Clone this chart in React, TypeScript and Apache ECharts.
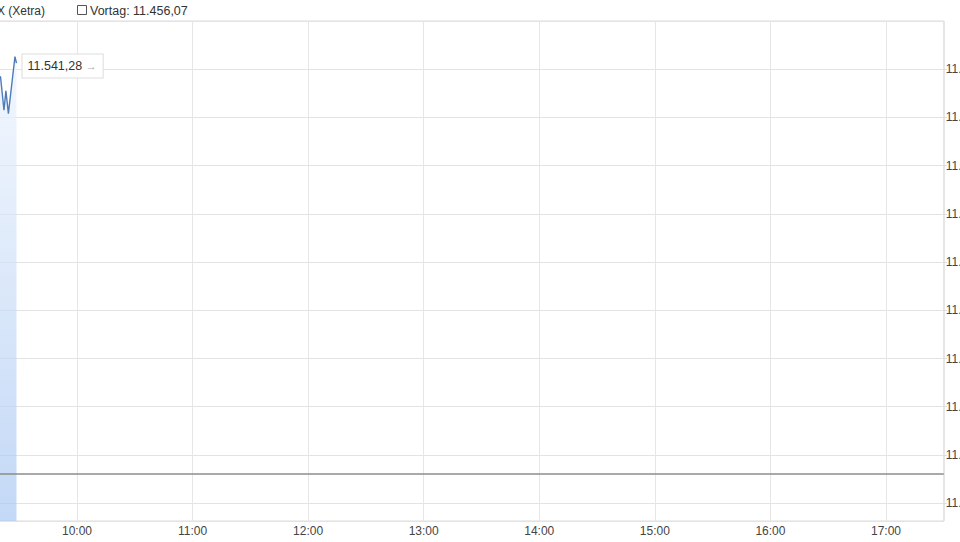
import React, { useEffect, useRef } from 'react';
import * as echarts from 'echarts';

// intraday quotes (Xetra), time of day -> index level
const times = ['09:19:30', '09:20:18', '09:22:06', '09:23:06', '09:24:24', '09:27:48', '09:28:36'];
const values = [11538.0, 11538.5, 11531.5, 11535.5, 11530.8, 11542.6, 11541.28];

const prevClose = 11456.07;
const seriesName = 'DAX (Xetra)';

// session 09:00 - 17:30, in minutes since midnight
const sessionStart = 9 * 60;
const sessionEnd = 17 * 60 + 30;
const yMin = 11446.3;
const yMax = 11550;

const toMinutes = (t: string) => {
  const [h, m, s] = t.split(':').map(Number);
  return h * 60 + m + (s || 0) / 60;
};

const fmtDE = (v: number, decimals: number) => {
  const fixed = v.toFixed(decimals);
  const [int, frac] = fixed.split('.');
  const grouped = int.replace(/\B(?=(\d{3})+(?!\d))/g, '.');
  return frac ? grouped + ',' + frac : grouped;
};

const fmtTime = (m: number) => {
  const h = Math.floor(m / 60);
  const mm = Math.round(m % 60);
  return String(h).padStart(2, '0') + ':' + String(mm).padStart(2, '0');
};

const App: React.FC = () => {
  const chartRef = useRef<HTMLDivElement>(null);

  useEffect(() => {
    if (!chartRef.current) return;
    const chart = echarts.init(chartRef.current, undefined, { renderer: 'svg' });

    const data = times.map((t, i) => [toMinutes(t), values[i]]);
    const font = '"Liberation Sans", Arial, sans-serif';

    const option = {
      animation: false,
      textStyle: { fontFamily: font },
      grid: {
        left: -38.6,
        right: 16.2,
        top: 21,
        bottom: 21,
        show: true,
        borderColor: '#dcdcdc',
        borderWidth: 1,
        containLabel: false,
        outerBoundsMode: 'none'
      },
      xAxis: {
        type: 'value',
        min: sessionStart,
        max: sessionEnd,
        interval: 60,
        axisLine: { show: false },
        axisTick: { show: false },
        axisLabel: {
          color: '#444',
          fontSize: 12,
          fontFamily: font,
          margin: 4,
          showMaxLabel: false,
          formatter: (v: number) => fmtTime(v)
        },
        splitLine: { show: true, lineStyle: { color: '#e6e6e6', width: 1 } }
      },
      yAxis: {
        type: 'value',
        position: 'right',
        min: yMin,
        max: yMax,
        splitNumber: 10,
        axisLine: { show: false },
        axisTick: { show: true, length: 3, lineStyle: { color: '#dcdcdc' } },
        axisLabel: {
          color: '#444',
          fontSize: 12,
          fontFamily: font,
          margin: 2,
          showMinLabel: false,
          showMaxLabel: false,
          formatter: (v: number) => fmtDE(v, 0)
        },
        splitLine: { show: true, lineStyle: { color: '#e3e3e3', width: 1 } }
      },
      graphic: [
        {
          type: 'text',
          x: 45,
          y: 11,
          style: {
            text: seriesName,
            textAlign: 'right',
            textVerticalAlign: 'middle',
            fill: '#333',
            font: '12px ' + font
          }
        },
        {
          type: 'rect',
          shape: { x: 77.5, y: 5.5, width: 9, height: 9 },
          style: { fill: '#fff', stroke: '#555', lineWidth: 1 }
        },
        {
          type: 'text',
          x: 90,
          y: 11,
          style: {
            text: 'Vortag: ' + fmtDE(prevClose, 2),
            textAlign: 'left',
            textVerticalAlign: 'middle',
            fill: '#333',
            font: '12.5px ' + font
          }
        }
      ],
      series: [
        {
          name: seriesName,
          type: 'line',
          data,
          showSymbol: false,
          smooth: false,
          lineStyle: { color: '#4f7cb8', width: 1.4 },
          areaStyle: {
            origin: 'start',
            color: new echarts.graphic.LinearGradient(0, 0, 0, 1, [
              { offset: 0, color: '#eef4fd' },
              { offset: 1, color: '#a9c8f2' }
            ])
          },
          endLabel: {
            show: true,
            distance: 6,
            offset: [0, 3],
            backgroundColor: '#fff',
            borderColor: '#dddddd',
            borderWidth: 1,
            padding: [5, 6, 5, 5],
            color: '#333',
            fontSize: 12.5,
            fontFamily: font,
            formatter: (p: any) => fmtDE(p.value[1], 2) + ' {arrow|→}',
            rich: { arrow: { color: '#aaa', fontSize: 11, fontFamily: font } }
          },
          markLine: {
            silent: true,
            symbol: 'none',
            label: { show: false },
            lineStyle: { color: '#8c8c8c', width: 1.5, type: 'solid' },
            data: [{ yAxis: prevClose }]
          }
        }
      ]
    };

    chart.setOption(option as any);

    const handleResize = () => chart.resize();
    window.addEventListener('resize', handleResize);
    return () => {
      window.removeEventListener('resize', handleResize);
      chart.dispose();
    };
  }, []);

  return (
    <div
      ref={chartRef}
      style={{ position: 'fixed', left: 0, top: 0, width: 960, height: 542, background: '#fff' }}
    />
  );
};

export default App;
